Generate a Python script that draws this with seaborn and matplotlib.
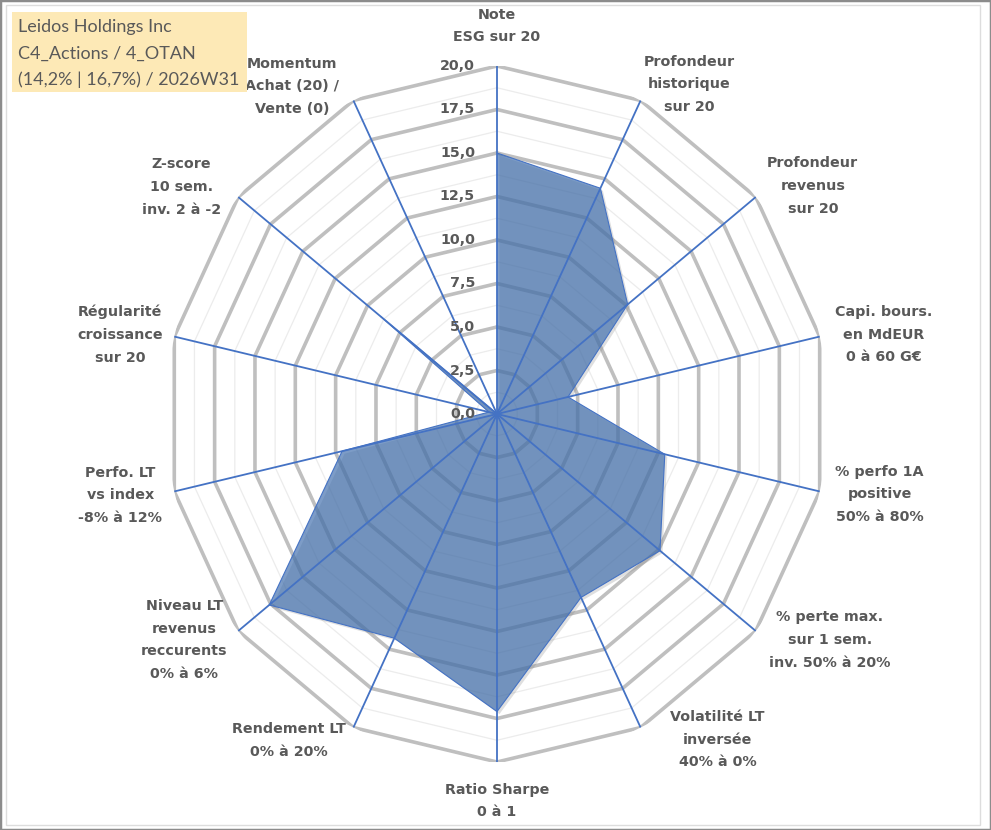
import numpy as np
import matplotlib
matplotlib.use("Agg")
import matplotlib.pyplot as plt
import matplotlib.transforms as mtransforms
from matplotlib.patches import Rectangle
import seaborn as sns

categories = [
    "Note\nESG sur 20",
    "Profondeur\nhistorique\nsur 20",
    "Profondeur\nrevenus\nsur 20",
    "Capi. bours.\nen MdEUR\n0 à 60 G€",
    "% perfo 1A\npositive\n50% à 80%",
    "% perte max.\nsur 1 sem.\ninv. 50% à 20%",
    "Volatilité LT\ninversée\n40% à 0%",
    "Ratio Sharpe\n0 à 1",
    "Rendement LT\n0% à 20%",
    "Niveau LT\nrevenus\nreccurents\n0% à 6%",
    "Perfo. LT\nvs index\n-8% à 12%",
    "Régularité\ncroissance\nsur 20",
    "Z-score\n10 sem.\ninv. 2 à -2",
    "Momentum\nAchat (20) /\nVente (0)",
]
scores = [15.0, 14.4, 10.1, 4.4, 10.4, 12.6, 11.7, 17.1, 14.3, 17.6, 9.6, 0.5, 9.0, 0.0]
r_ticks = [0, 2.5, 5, 7.5, 10, 12.5, 15, 17.5, 20]
title_lines = ["Leidos Holdings Inc", "C4_Actions / 4_OTAN", "(14,2% | 16,7%) / 2026W31"]

# where each axis label sits, relative to the outer vertex (pixels)
label_offsets = [(0, 40), (49, 16), (57, 11), (64, 2), (60, -3), (74, -9), (77, -12),
                 (0, -39), (-64, -13), (-54, -9), (-54, -4), (-54, 2), (-57, 10), (-61, 14)]

sns.set_theme(style="white")
plt.rcParams['font.family'] = ['DejaVu Sans']

TXT = '#595959'
BLUE = '#4472C4'
rmax = r_ticks[-1]

n = len(categories)
theta = np.linspace(0, 2 * np.pi, n, endpoint=False)
theta_c = np.append(theta, theta[0])

fig = plt.figure(figsize=(9.91, 8.3), dpi=100)
ax = fig.add_axes([0.1675, 0.0819, 0.668, 0.8386], projection='polar')
ax.set_aspect('auto')
ax.set_theta_zero_location('N')
ax.set_theta_direction(-1)
ax.set_ylim(0, rmax)
ax.grid(False)
ax.set_xticks([])
ax.set_yticks([])
ax.spines['polar'].set_visible(False)
ax.set_facecolor('white')

# polygon grid: light minor rings, thicker major rings
for r in np.arange(1.25, rmax, 2.5):
    ax.plot(theta_c, [r] * (n + 1), color='#ececec', lw=0.9, zorder=1)
for r in r_ticks[1:]:
    ax.plot(theta_c, [r] * (n + 1), color='#bfbfbf', lw=2.6, zorder=2,
            solid_joinstyle='miter')

# the series
vals = np.append(scores, scores[0])
shadow = mtransforms.offset_copy(ax.transData, fig=fig, x=2.5, y=-2.5, units='dots')
ax.fill(theta_c, vals, color='#808080', alpha=0.25, lw=0, zorder=3, transform=shadow)
ax.fill(theta_c, vals, color='#3F6EAD', alpha=0.68, lw=0, zorder=4)
sns.lineplot(x=theta_c, y=vals, sort=False, ax=ax, color=BLUE, lw=0.8, zorder=5)

# spokes
for t in theta:
    ax.plot([t, t], [0, rmax], color=BLUE, lw=1.3, zorder=6)

# radial tick labels
for r in r_ticks:
    ax.annotate(f"{r:.1f}".replace('.', ','), xy=(0, r), xytext=(-22, 0),
                textcoords='offset pixels', ha='right', va='center',
                fontsize=10.3, fontweight='bold', color=TXT, zorder=7)

# axis labels
for t, lab, off in zip(theta, categories, label_offsets):
    ax.annotate(lab, xy=(t, rmax), xytext=off, textcoords='offset pixels',
                ha='center', va='center', multialignment='center',
                fontsize=10.3, fontweight='bold', color=TXT, linespacing=1.8,
                annotation_clip=False, zorder=7)

# title box
W, H = 991, 830
fig.patches.append(Rectangle((12 / W, 1 - 92 / H), 235 / W, 80 / H, transform=fig.transFigure,
                             facecolor='#FDE9B6', edgecolor='none', zorder=0))
for i, line in enumerate(title_lines):
    fig.text(18 / W, 1 - (27 + 26.5 * i) / H, line, ha='left', va='center',
             fontsize=13, color=TXT, family=['Lato', 'DejaVu Sans'])

# chart borders
fig.patches.append(Rectangle((0, 0), 1, 1, transform=fig.transFigure, fill=False,
                             edgecolor='#8c8c8c', lw=2.5))
fig.patches.append(Rectangle((6 / W, 5 / H), 974 / W, 820 / H, transform=fig.transFigure,
                             fill=False, edgecolor='#dddddd', lw=1))

fig.savefig('out.png', dpi=100)
